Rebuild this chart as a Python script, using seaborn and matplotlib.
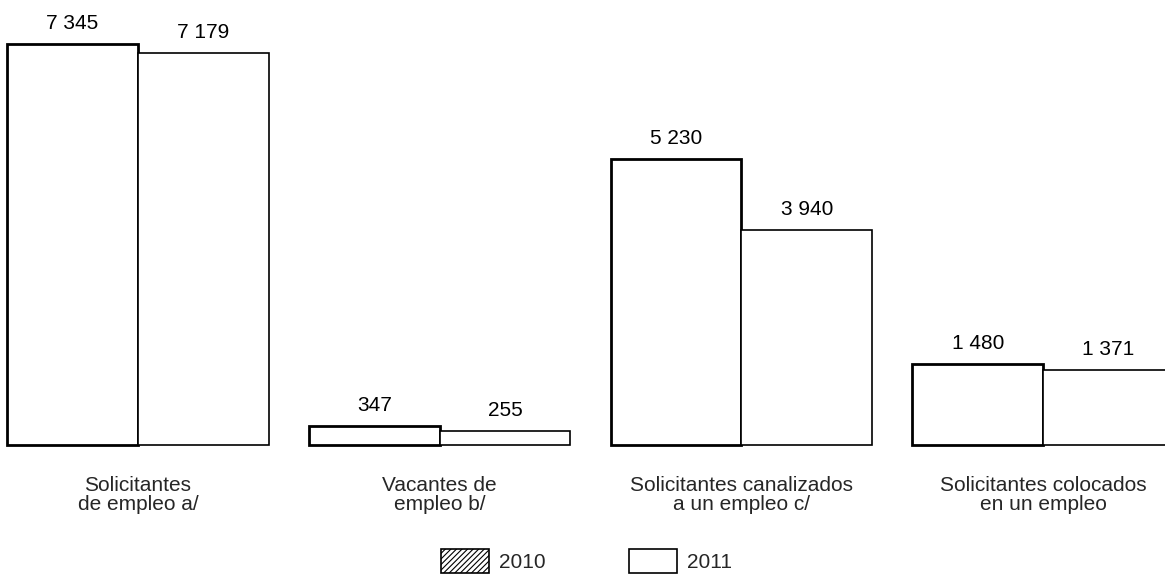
import matplotlib
matplotlib.use("Agg")
import matplotlib.pyplot as plt
from matplotlib.patches import Patch
import seaborn as sns
import pandas as pd

categories = [
    "Solicitantes\nde empleo a/",
    "Vacantes de\nempleo b/",
    "Solicitantes canalizados\na un empleo c/",
    "Solicitantes colocados\nen un empleo",
]
years = ["2010", "2011"]
values_2010 = [7345, 347, 5230, 1480]
values_2011 = [7179, 255, 3940, 1371]

df = pd.DataFrame({
    "categoria": categories * 2,
    "anio": [years[0]] * 4 + [years[1]] * 4,
    "valor": values_2010 + values_2011,
})

sns.set_theme(style="white")
plt.rcParams["font.family"] = ["Liberation Sans", "DejaVu Sans"]
plt.rcParams["hatch.linewidth"] = 0.8

fig = plt.figure(figsize=(11.65, 5.74), dpi=100)
ax = fig.add_axes([0, 0.2247, 1, 0.7753])

sns.barplot(data=df, x="categoria", y="valor", hue="anio", order=categories,
            hue_order=years, width=0.866, gap=0, palette=["white", "white"],
            edgecolor="black", legend=False, ax=ax)

n = len(categories)
for i, p in enumerate(ax.patches[:2 * n]):
    p.set_facecolor("white")
    p.set_edgecolor("black")
    p.set_linewidth(2.0 if i < n else 1.2)
    p.set_clip_on(False)

def fmt(v):
    return f"{v:,}".replace(",", " ")

for i, p in enumerate(ax.patches[:2 * n]):
    v = (values_2010 + values_2011)[i]
    ax.annotate(fmt(v), (p.get_x() + p.get_width() / 2, p.get_height()),
                xytext=(0, 8), textcoords="offset points",
                ha="center", va="bottom", fontsize=15, color="black")

ax.set_xlim(-0.457, 3.404)
ax.set_ylim(0, 8150)
ax.set_xlabel("")
ax.set_ylabel("")
ax.set_yticks([])
ax.set_xticks(range(n))
ax.set_xticklabels(categories, fontsize=15, linespacing=1.0)
ax.tick_params(axis="x", length=0, pad=22)
for s in ax.spines.values():
    s.set_visible(False)

handles = [
    Patch(facecolor="white", edgecolor="black", hatch="//////", linewidth=1.2, label="2010"),
    Patch(facecolor="white", edgecolor="black", linewidth=1.2, label="2011"),
]
fig.legend(handles=handles, loc="lower center", bbox_to_anchor=(0.5035, 0.0),
           ncol=2, frameon=False, fontsize=15, handlelength=2.3,
           handleheight=1.4, handletextpad=0.5, columnspacing=4.0,
           borderpad=0.05, borderaxespad=0.0)

fig.savefig("out.png", dpi=100, facecolor="white")
